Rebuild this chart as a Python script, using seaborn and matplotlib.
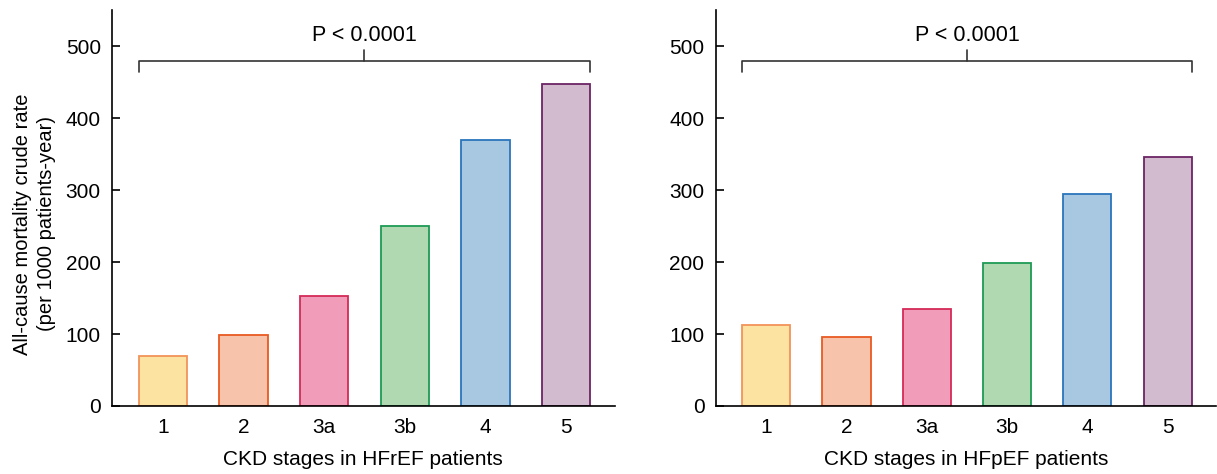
import numpy as np
import pandas as pd
import matplotlib
matplotlib.use("Agg")
import matplotlib.pyplot as plt
import seaborn as sns

# data
stages = ["1", "2", "3a", "3b", "4", "5"]
hfref_rate = [69, 98, 153, 250, 369, 447]
hfpef_rate = [113, 96, 135, 198, 295, 346]
p_text = "P < 0.0001"

fill_colors = ["#FCE3A1", "#F7C3AA", "#F19DB9", "#B0D8B1", "#A8C7E0", "#D2BBCE"]
edge_colors = ["#F29358", "#E85A22", "#D42A57", "#1E9A55", "#2A75BC", "#6B2465"]

sns.set_theme(style="ticks")
plt.rcParams["font.family"] = ["Liberation Sans", "DejaVu Sans"]
plt.rcParams["text.color"] = "black"
plt.rcParams["axes.labelcolor"] = "black"


def draw_panel(ax, values, xlabel):
    df = pd.DataFrame({"stage": stages, "rate": values})
    sns.barplot(data=df, x="stage", y="rate", hue="stage", palette=fill_colors,
                order=stages, hue_order=stages, width=0.6, legend=False,
                saturation=1, ax=ax)
    for patch, ec in zip(ax.patches, edge_colors):
        patch.set_edgecolor(ec)
        patch.set_linewidth(1.3)

    ax.set_xlim(-0.63, 5.6)
    ax.set_ylim(0, 550)
    ax.set_yticks([0, 100, 200, 300, 400, 500])
    ax.tick_params(axis="y", direction="in", length=6, width=1.2, labelsize=15, pad=8, colors="black")
    ax.tick_params(axis="x", length=0, labelsize=15, pad=9, colors="black")
    ax.set_xlabel(xlabel, fontsize=15, labelpad=9)
    ax.set_ylabel("")
    for s in ["top", "right"]:
        ax.spines[s].set_visible(False)
    for s in ["left", "bottom"]:
        ax.spines[s].set_linewidth(1.2)
        ax.spines[s].set_color("black")

    # significance bracket
    x0, x1, xm = -0.3, 5.3, 2.5
    y_top, y_end, y_mid = 479, 464, 494
    ax.plot([x0, x0, x1, x1], [y_end, y_top, y_top, y_end], color="#333333", lw=1.2, clip_on=False)
    ax.plot([xm, xm], [y_top, y_mid], color="#333333", lw=1.2, clip_on=False)
    ax.text(xm, 500, p_text, ha="center", va="bottom", fontsize=15.5)


fig = plt.figure(figsize=(12.17, 4.74), dpi=100)
ax1 = fig.add_axes([0.092, 0.1435, 0.413, 0.835])
ax2 = fig.add_axes([0.588, 0.1435, 0.411, 0.835])

draw_panel(ax1, hfref_rate, "CKD stages in HFrEF patients")
draw_panel(ax2, hfpef_rate, "CKD stages in HFpEF patients")

ax1.set_ylabel("All-cause mortality crude rate\n(per 1000 patients-year)", fontsize=14.5, linespacing=1.3)
ax1.yaxis.set_label_coords(-0.112, 0.46)

fig.savefig("out.png", dpi=100)
